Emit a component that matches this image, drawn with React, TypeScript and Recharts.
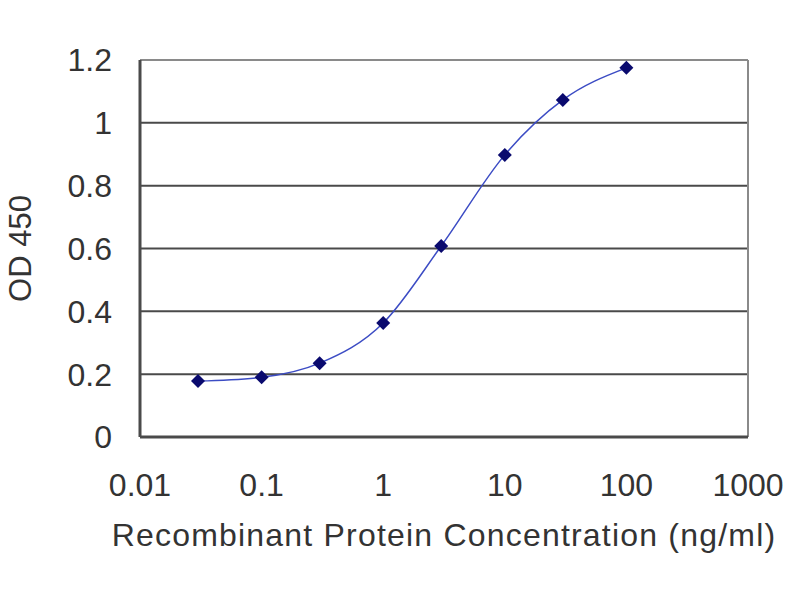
import React from 'react';
import { LineChart, Line, XAxis, YAxis, CartesianGrid, ReferenceLine, Label } from 'recharts';

// concentrations (ng/ml) and OD 450 readings
const concentrations = [0.03, 0.1, 0.3, 1, 3, 10, 30, 100];
const odValues = [0.178, 0.19, 0.235, 0.363, 0.608, 0.898, 1.073, 1.175];
const xTicks = [0.01, 0.1, 1, 10, 100, 1000];
const yTicks = [0, 0.2, 0.4, 0.6, 0.8, 1, 1.2];

const data = concentrations.map((c, i) => ({ conc: c, od: odValues[i] }));

const FONT = '"Liberation Sans", Arial, sans-serif';
const TEXT = '#333';

const Diamond = (props: any) => {
  const { cx, cy } = props;
  if (cx == null || cy == null) return null;
  const r = 7;
  return (
    <path
      d={`M${cx},${cy - r} L${cx + r},${cy} L${cx},${cy + r} L${cx - r},${cy} Z`}
      fill="#0a0a6e"
    />
  );
};

export default function App() {
  return (
    <div style={{ position: 'absolute', top: 0, left: 0, width: 800, height: 600, background: '#fff', fontFamily: FONT }}>
      <LineChart width={800} height={600} data={data} margin={{ top: 60, right: 52, left: 80, bottom: 103 }}>
        <CartesianGrid horizontal vertical={false} stroke="#4a4a4a" strokeWidth={2} />
        <XAxis
          dataKey="conc"
          type="number"
          scale="log"
          domain={[0.01, 1000]}
          ticks={xTicks}
          allowDataOverflow
          height={60}
          axisLine={{ stroke: '#4a4a4a', strokeWidth: 3 }}
          tickLine={false}
          tick={{ fill: TEXT, fontSize: 32, fontFamily: FONT }}
          tickMargin={30}
          tickFormatter={(v: number) => String(v)}
        >
          <Label
            value="Recombinant Protein Concentration (ng/ml)"
            position="bottom"
            offset={26}
            fill={TEXT}
            fontSize={32}
            fontFamily={FONT}
            style={{ letterSpacing: 1.2 }}
          />
        </XAxis>
        <YAxis
          type="number"
          domain={[0, 1.2]}
          ticks={yTicks}
          width={60}
          axisLine={{ stroke: '#4a4a4a', strokeWidth: 3 }}
          tickLine={false}
          tick={{ fill: TEXT, fontSize: 32, fontFamily: FONT }}
          tickMargin={22}
          tickFormatter={(v: number) => String(v)}
        >
          <Label
            value="OD 450"
            angle={-90}
            position="insideLeft"
            offset={-60}
            fill={TEXT}
            fontSize={31}
            fontFamily={FONT}
            style={{ textAnchor: 'middle' }}
          />
        </YAxis>
        <ReferenceLine x={1000} stroke="#8a8a8a" strokeWidth={2} />
        <ReferenceLine y={1.2} stroke="#8a8a8a" strokeWidth={2} />
        <Line
          dataKey="od"
          type="monotone"
          stroke="#3c4cc4"
          strokeWidth={1.5}
          dot={<Diamond />}
          activeDot={false}
          isAnimationActive={false}
        />
      </LineChart>
    </div>
  );
}
